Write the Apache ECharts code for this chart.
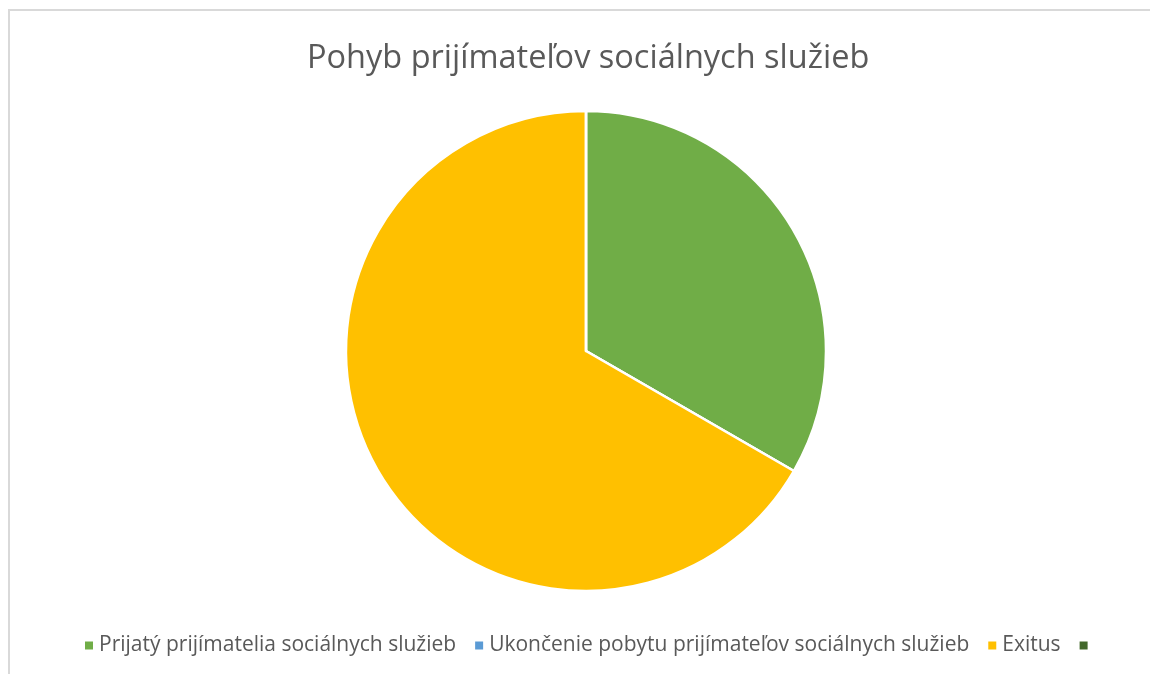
<!DOCTYPE html>
<html>
<head>
<meta charset="utf-8">
<script src="https://cdn.jsdelivr.net/npm/echarts@6/dist/echarts.min.js"></script>
<style>
html,body{margin:0;padding:0;background:#fff;}
#frame{position:absolute;left:8px;top:9px;width:1160px;height:700px;border-left:2px solid #d9d9d9;border-top:2px solid #d9d9d9;}
#chart{position:absolute;left:0;top:0;width:1150px;height:674px;}
</style>
</head>
<body>
<div id="frame"></div>
<div id="chart"></div>
<script>
const titleText = 'Pohyb prijímateľov sociálnych služieb';
const categories = ['Prijatý prijímatelia sociálnych služieb', 'Ukončenie pobytu prijímateľov sociálnych služieb', 'Exitus', ' '];
const values = [1, 0, 2, 0];
const colors = ['#70AD47', '#5B9BD5', '#FFC000', '#43682B'];

const chart = echarts.init(document.getElementById('chart'), null, {renderer: 'canvas'});
chart.setOption({
  backgroundColor: 'transparent',
  animation: false,
  title: {
    text: titleText,
    left: 302,
    top: 37,
    textStyle: {fontFamily: 'Open Sans', fontSize: 32.5, fontWeight: 'normal', color: '#595959'}
  },
  legend: {
    top: 630,
    left: 78,
    icon: 'rect',
    itemWidth: 10,
    itemHeight: 10,
    itemGap: 17,
    data: categories,
    textStyle: {fontFamily: 'Open Sans', fontSize: 21, color: '#595959'}
  },
  series: [{
    type: 'pie',
    center: [586, 351],
    radius: [0, 240],
    startAngle: 90,
    clockwise: true,
    stillShowZeroSum: true,
    label: {show: false},
    labelLine: {show: false},
    itemStyle: {borderColor: '#ffffff', borderWidth: 2.5},
    emphasis: {disabled: true},
    data: categories.map((c, i) => ({name: c, value: values[i], itemStyle: {color: colors[i]}}))
  }]
});
</script>
</body>
</html>
